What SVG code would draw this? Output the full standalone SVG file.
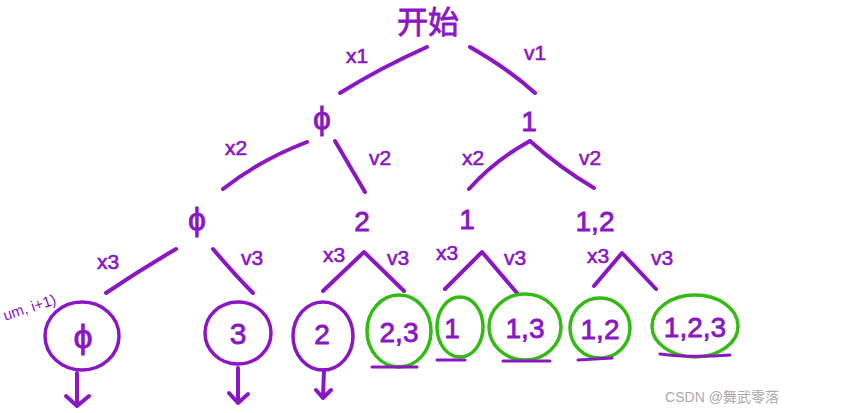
<svg xmlns="http://www.w3.org/2000/svg" width="854" height="413" viewBox="0 0 854 413">
<style>
text{font-family:"Liberation Sans","Noto Sans CJK SC",sans-serif;fill:#8a16c4}
.n{font-size:28px;text-anchor:middle;stroke:#8a16c4;stroke-width:0.8}
.l{font-size:21px;text-anchor:middle;stroke:#8a16c4;stroke-width:0.6}
.e{fill:none;stroke:#8a16c4;stroke-width:4;stroke-linecap:round;stroke-linejoin:round}
.p{fill:none;stroke:#8a16c4;stroke-width:3.5}
.g{fill:none;stroke:#33bb14;stroke-width:3.5}
.u{fill:none;stroke:#8a16c4;stroke-width:3;stroke-linecap:round}
</style>
<rect width="854" height="413" fill="#fff"/>
<g id="connectors">
<path class="e" d="M427,47 Q380,68 340,93"/>
<path class="e" d="M470,47 Q510,70 535,93"/>
<path class="e" d="M307,142 Q260,160 223,189"/>
<path class="e" d="M335,141 Q352,170 365,192"/>
<path class="e" d="M530,141 Q495,160 469,189"/>
<path class="e" d="M530,141 Q560,168 594,188"/>
<path class="e" d="M176,249 Q140,270 106,293"/>
<path class="e" d="M213,249 Q235,275 253,293"/>
<path class="e" d="M323,291 L364,252 L404,291"/>
<path class="e" d="M445,289 L482,252 L517,293"/>
<path class="e" d="M594,286 L622,253 L656,289"/>
<path class="e" d="M77,373 L77,405 M66,396 L77,406 L89,396"/>
<path class="e" d="M238,368 L238,403 M229,393 L238,403 L248,394"/>
<path class="e" d="M324,370 L323,398 M316,390 L323,398 L331,390"/>
</g>
<g id="labels">
<text class="l" x="357" y="63">x1</text>
<text class="l" x="535" y="60">v1</text>
<text class="l" x="236" y="155">x2</text>
<text class="l" x="380" y="165">v2</text>
<text class="l" x="473" y="165">x2</text>
<text class="l" x="590" y="165">v2</text>
<text class="l" x="108" y="269">x3</text>
<text class="l" x="252" y="265">v3</text>
<text class="l" x="334" y="262">x3</text>
<text class="l" x="398" y="265">v3</text>
<text class="l" x="447" y="260">x3</text>
<text class="l" x="515" y="265">v3</text>
<text class="l" x="598" y="263">x3</text>
<text class="l" x="662" y="265">v3</text>
</g>
<g id="root"><text class="n" x="428" y="33" style="font-size:31px">开始</text></g>
<g id="n1"><text class="n" x="322" y="129" style="font-size:32px">ϕ</text></g>
<g id="n2"><text class="n" x="529" y="131">1</text></g>
<g id="n3"><text class="n" x="197" y="230" style="font-size:32px">ϕ</text></g>
<g id="n4"><text class="n" x="362" y="231">2</text></g>
<g id="n5"><text class="n" x="467" y="229">1</text></g>
<g id="n6"><text class="n" x="595" y="231">1,2</text></g>
<g id="leaf1"><ellipse class="p" cx="82" cy="336" rx="37" ry="34"/><text class="n" x="83" y="348" style="font-size:34px">ϕ</text></g>
<g id="leaf2"><ellipse class="p" cx="238" cy="333" rx="33" ry="31"/><text class="n" x="238" y="344" style="font-size:30px">3</text></g>
<g id="leaf3"><ellipse class="p" cx="323" cy="336" rx="30" ry="34"/><text class="n" x="322" y="344">2</text></g>
<g id="leaf4"><ellipse class="g" cx="399" cy="331" rx="32" ry="36"/><text class="n" x="399" y="342">2,3</text><path class="u" d="M372,367 L417,367"/></g>
<g id="leaf5"><ellipse class="g" cx="460" cy="327" rx="23" ry="30"/><text class="n" x="452" y="338">1</text><path class="u" d="M437,360 L465,360"/></g>
<g id="leaf6"><ellipse class="g" cx="525" cy="327" rx="36" ry="33"/><text class="n" x="525" y="338">1,3</text><path class="u" d="M503,361 L550,361"/></g>
<g id="leaf7"><ellipse class="g" cx="600" cy="328" rx="30" ry="30"/><text class="n" x="600" y="339">1,2</text><path class="u" d="M578,360 L612,358"/></g>
<g id="leaf8"><ellipse class="g" cx="695" cy="326" rx="43" ry="31"/><text class="n" x="695" y="337">1,2,3</text><path class="u" d="M660,354 Q690,358 730,355"/></g>
<g id="note"><text x="0" y="312" transform="rotate(-18 30 300)" style="font-size:15px">um, i+1)</text></g>
<text x="722" y="402" style="font-size:14px;fill:#aaaaaa;text-anchor:middle">CSDN @舞武零落</text>
</svg>
